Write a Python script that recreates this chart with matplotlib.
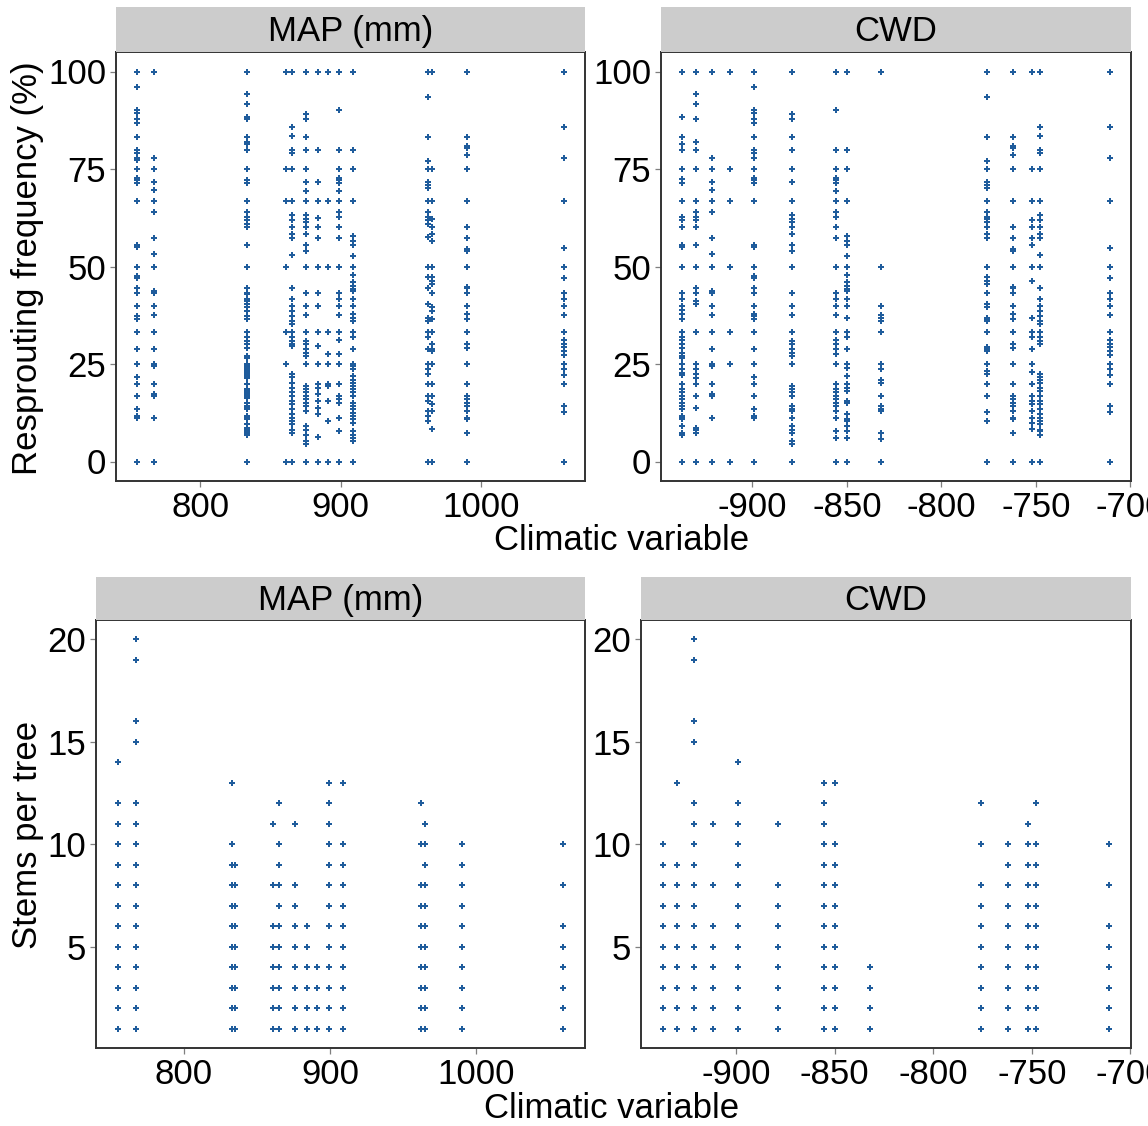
import matplotlib
matplotlib.use("Agg")
import matplotlib.pyplot as plt

plt.rcParams["font.family"] = ["Liberation Sans", "DejaVu Sans"]
plt.rcParams["axes.unicode_minus"] = False

# resprouting frequency (%) per site
map_sites = [755, 767, 833, 861, 865, 875, 884, 891, 899, 909, 962, 965, 990, 1059]
map_resprout = [
    [100, 96, 90.2, 89.4, 87.7, 86.8, 83.2, 79.8, 79.1, 77.7, 77.4, 75, 72.8, 72.1, 71.4, 66.7, 55.4, 54.9, 50,
     47.6, 47, 44.6, 43.2, 40, 37.4, 36.5, 33.3, 28.8, 25, 21.7, 20, 16.7, 13.5, 11.7, 11.1, 0],
    [100, 77.7, 75, 71.6, 69.7, 66.7, 64, 57.3, 53.3, 50, 43.8, 43.2, 40, 37.6, 33.3, 28.8, 25, 24.5, 20, 17.4,
     16.7, 11.1, 0],
    [100, 94.2, 91.6, 88.3, 87.7, 83.2, 81.8, 81.5, 79.8, 75, 72.1, 71.4, 66.7, 63.9, 62.6, 61.8, 60.9, 60.2, 55.4,
     50, 44.6, 43.2, 42.9, 41.6, 41.2, 40.4, 39.5, 38.6, 37.4, 36.5, 33.3, 31.8, 30.9, 30.1, 29.2, 27.1, 26.6, 25,
     24.5, 24.1, 23.7, 23.2, 22.8, 22.4, 21.9, 21.5, 20, 18.5, 18.1, 17.7, 17.2, 16.7, 16.4, 15.1, 14.2, 13.8, 13.4,
     11.7, 11.1, 10.8, 9.5, 8.7, 8.2, 7.8, 7.4, 6.9, 0],
    [100, 75, 66.7, 50, 33.3, 25, 0],
    [100, 85.8, 83.5, 79.8, 79.1, 75, 66.7, 63.1, 61.8, 60.2, 58.4, 57.3, 53, 44.6, 41.6, 40, 38.6, 37.4, 36.1,
     35.2, 33.3, 32, 30.9, 30.1, 29.5, 22.4, 21.7, 20.1, 18.9, 17.7, 16.7, 15.5, 14.7, 13.4, 12.1, 11.2, 10.4, 9.5,
     8.2, 7.4, 0],
    [100, 89.2, 87.7, 83.2, 79.8, 75, 71.6, 69.3, 66.7, 63.1, 62.2, 61.4, 60.2, 58.4, 55.4, 54.1, 50, 43.2, 40,
     37.6, 33.3, 30.9, 30.1, 28.8, 27.9, 27.1, 25, 19.4, 18.5, 17.7, 16.7, 15.9, 15.1, 14.2, 12.9, 9.1, 8.2, 6.9,
     5.2, 4.4, 0],
    [100, 79.8, 71.6, 66.7, 62.5, 60.2, 57.3, 50, 43.2, 40, 33.3, 29.5, 25, 20, 18.9, 17.2, 15.5, 13.8, 12.1, 6.3, 0],
    [100, 66.7, 50, 33.3, 27.5, 25, 20, 19.4, 15.5, 10.4, 0],
    [100, 90.2, 79.8, 75, 72.8, 72.1, 71.4, 69.3, 66.7, 63.9, 62.6, 60.2, 57.3, 50, 43.2, 41.6, 40, 37.6, 33.3,
     31.1, 27.5, 25, 20, 16.7, 15.9, 15.1, 11.2, 7.8, 0],
    [100, 79.8, 75, 66.7, 57.7, 56.6, 55.6, 52.6, 50, 47.9, 45.9, 45.1, 44.2, 43.6, 41.6, 40, 37.8, 36.9, 36.1,
     33.3, 31.8, 28.8, 25, 24.5, 23.7, 21.9, 21, 20.2, 19.4, 18.5, 17.7, 16.7, 15.1, 14.2, 13.4, 12.5, 11.7, 10.8,
     9.9, 7.8, 6.9, 6.1, 5.2, 0],
    [100, 93.5, 83.2, 77, 75, 71.6, 70.8, 70.2, 66.7, 63.9, 62.6, 61.8, 60.9, 57.5, 50, 47.2, 44.6, 40.4, 36.9,
     36.1, 33.3, 31.8, 28.8, 25, 23.7, 22.4, 20, 16.7, 15.5, 12.9, 11.7, 10.4, 0],
    [100, 75, 66.7, 62.2, 60.2, 58.4, 56.6, 50, 47.2, 46.4, 45.5, 43.2, 39.5, 38.6, 36.5, 33.3, 30.1, 28.8, 28.3,
     25, 20, 16.7, 14.7, 12.9, 8.4, 0],
    [100, 83.2, 81, 80.3, 78.5, 75, 66.7, 60.2, 57.3, 54.5, 54.1, 50, 44.8, 44.6, 43.2, 40, 37.8, 36.5, 33.3, 30.1,
     29.2, 25, 20, 16.7, 15.9, 15.1, 14.2, 12.9, 11.2, 11, 7.4, 0],
    [100, 85.8, 77.7, 66.7, 54.8, 50, 47, 43.2, 41.6, 40, 37.6, 33.3, 31.1, 30.2, 29.4, 28.4, 27.3, 25, 23.7, 22.2,
     20, 14.2, 12.8, 0],
]

cwd_sites = [-937, -930, -921.5, -912, -899, -879, -855.6, -849.7, -832, -776, -762, -752, -748, -711]
cwd_resprout = [
    [100, 88.3, 83.2, 81.5, 79.8, 75, 72.5, 71.4, 66.7, 62.6, 61.8, 60.2, 55.4, 54.9, 50, 43.2, 41.6, 40, 38.8,
     37.8, 36.5, 33.3, 31.8, 31.1, 30.1, 29.2, 27.9, 27.1, 26.6, 25, 23.7, 22.8, 22.1, 20, 18.5, 17.7, 16.7, 15.9,
     15.1, 14.2, 13.5, 11.7, 11.2, 10.8, 9.1, 7.4, 6.9, 0],
    [100, 94.2, 91.6, 87.7, 81.8, 79.8, 75, 66.7, 63.9, 62.6, 61.8, 60.2, 55.4, 50, 44.6, 43.2, 41.2, 40.4, 33.3,
     25, 23.7, 22.4, 21.5, 20, 16.7, 13.8, 8.7, 8.2, 7.4, 0],
    [100, 77.7, 75, 71.6, 69.7, 66.7, 64, 57.3, 53.3, 50, 43.8, 43.2, 40, 37.6, 33.3, 28.8, 25, 24.5, 20, 17.4,
     16.7, 11.1, 0],
    [100, 75, 66.7, 50, 33.3, 25, 0],
    [100, 96, 90.2, 89.4, 87.7, 86.8, 83.2, 79.8, 79.1, 77.7, 75, 72.8, 72.1, 71.4, 66.7, 55.4, 54.9, 50,
     47.6, 47, 44.6, 43.2, 40, 37.8, 37.4, 36.5, 33.3, 28.8, 25, 21.7, 20, 16.7, 13.5, 11.7, 11.1, 0],
    [100, 89.2, 87.7, 83.2, 79.8, 75, 71.6, 66.7, 63.1, 62.2, 61.4, 60.2, 58.4, 55.4, 54.1, 50, 43.2, 40,
     37.6, 33.3, 30.9, 30.1, 28.8, 27.9, 27.1, 25, 19.4, 18.5, 17.7, 16.7, 14.2, 13.4, 12.9, 11.2, 9.1, 8.2, 7.4,
     5.2, 4.4, 0],
    [100, 90.2, 79.8, 75, 72.8, 72.1, 71.4, 69.3, 66.7, 63.9, 62.6, 60.2, 57.3, 50, 43.2, 41.6, 40, 37.6, 33.3,
     31.1, 30.1, 28.8, 27.5, 25, 20, 18.5, 17.7, 16.7, 15.9, 15.1, 14.2, 12.9, 11.2, 7.8, 6.1, 0],
    [100, 79.8, 75, 66.7, 57.7, 56.6, 55.4, 52.6, 50, 47.9, 45.9, 45.1, 44.2, 43.6, 41.6, 40, 36.9,
     33.3, 31.8, 28.8, 25, 24.1, 21.9, 20, 18.9, 18.1, 15.5, 15.1, 12.1, 10.8, 10.4, 9.1, 7.8, 6.1, 0],
    [100, 50, 40, 37.6, 36.7, 36.1, 33.3, 25, 23.7, 21, 20.2, 16.7, 14.2, 13.4, 12.9, 7.4, 5.7, 0],
    [100, 93.5, 83.2, 77, 75, 71.6, 70.8, 70.2, 66.7, 63.9, 62.6, 62.2, 61.4, 60.2, 58.4, 57.3, 50, 47.2, 46.4,
     45.5, 43.2, 40.4, 39.5, 36.9, 36.5, 36.1, 33.3, 29.4, 28.8, 28.3, 25, 23.2, 22.4, 20, 16.7, 12.8, 10.4, 0],
    [100, 83.2, 81, 80.3, 78.5, 75, 66.7, 60.2, 57.3, 54.5, 54.1, 50, 44.8, 44.6, 43.2, 40, 37.8, 36.5, 33.3, 30.1,
     29.2, 25, 20, 16.7, 15.9, 15.1, 14.2, 12.9, 11.2, 11, 7.4, 0],
    [100, 75, 66.7, 61.8, 60.2, 57.3, 55.4, 50, 46.4, 36.9, 33.3, 31.8, 28.8, 25, 23, 20, 16.7, 15.5, 14.7, 12.9,
     11.2, 9.9, 8.4, 0],
    [100, 85.8, 83.5, 79.8, 79.1, 75, 66.7, 63.1, 61.8, 60.2, 58.4, 57.3, 53, 50, 44.6, 41.6, 40, 38.6, 37.4, 36.1,
     35.2, 33.3, 32, 30.9, 30.1, 22.4, 21.7, 20.8, 20.1, 18.9, 18.1, 16.7, 15.5, 14.7, 13.4, 12.1, 11.2, 10.4,
     9.5, 8.2, 7.8, 6.9, 0],
    [100, 85.8, 77.7, 66.7, 54.8, 50, 47, 43.2, 41.6, 40, 37.6, 33.3, 31.1, 30.2, 29.4, 28.4, 27.3, 25, 23.7, 22.2,
     20, 14.2, 12.8, 0],
]

# stems per tree, bottom row
map_stem_sites = [755, 767, 833, 835, 861, 865, 876, 884, 891, 899, 909, 962, 965, 990, 1059]
map_stems = [
    [1, 2, 3, 4, 5, 6, 7, 8, 9, 10, 11, 12, 14],
    [1, 2, 3, 4, 5, 6, 7, 8, 9, 10, 11, 12, 15, 16, 19, 20],
    [1, 2, 3, 4, 5, 6, 7, 8, 9, 10, 13],
    [1, 2, 3, 4, 5, 6, 7, 8, 9],
    [1, 2, 3, 4, 5, 6, 8, 11],
    [1, 2, 3, 4, 5, 6, 7, 8, 9, 10, 12],
    [1, 2, 3, 4, 5, 6, 7, 8, 11],
    [1, 2, 3, 4, 5, 6],
    [1, 2, 3, 4],
    [1, 2, 3, 4, 5, 6, 7, 8, 9, 10, 11, 12, 13],
    [1, 2, 3, 4, 5, 6, 7, 8, 9, 10, 13],
    [1, 2, 3, 4, 5, 6, 7, 8, 10, 12],
    [1, 2, 3, 4, 5, 6, 7, 8, 9, 10, 11],
    [1, 2, 3, 4, 5, 6, 7, 8, 9, 10],
    [1, 2, 3, 4, 5, 6, 8, 10],
]

cwd_stem_sites = [-937, -930, -921.5, -912, -899, -879, -855.6, -849.7, -832, -776, -762, -752, -748, -711]
cwd_stems = [
    [1, 2, 3, 4, 5, 6, 7, 8, 9, 10],
    [1, 2, 3, 4, 5, 6, 7, 8, 9, 13],
    [1, 2, 3, 4, 5, 6, 7, 8, 9, 10, 11, 12, 15, 16, 19, 20],
    [1, 2, 3, 4, 5, 6, 8, 11],
    [1, 2, 3, 4, 5, 6, 7, 8, 9, 10, 11, 12, 14],
    [1, 2, 3, 4, 5, 6, 7, 8, 11],
    [1, 2, 3, 4, 5, 6, 7, 8, 9, 10, 11, 12, 13],
    [1, 2, 3, 4, 5, 6, 7, 8, 9, 10, 13],
    [1, 2, 3, 4],
    [1, 2, 3, 4, 5, 6, 7, 8, 10, 12],
    [1, 2, 3, 4, 5, 6, 7, 8, 9, 10],
    [1, 2, 3, 4, 5, 6, 7, 8, 9, 10, 11],
    [1, 2, 3, 4, 5, 6, 7, 8, 9, 10, 12],
    [1, 2, 3, 4, 5, 6, 8, 10],
]

W, H = 1148, 1126
fig = plt.figure(figsize=(W / 100, H / 100), dpi=100)

PT_COLOR = "#1f5c9c"
FS = 25


def frac(x0, y0, x1, y1):
    # pixel box -> figure fraction [left, bottom, width, height]
    return [x0 / W, 1 - y1 / H, (x1 - x0) / W, (y1 - y0) / H]


def panel(box, strip_box, title, sites, values, xticks, yticks):
    ax = fig.add_axes(frac(*box))
    for x, vals in zip(sites, values):
        ax.plot([x] * len(vals), vals, linestyle="none", marker="P", markersize=4.2,
                markeredgewidth=0, color=PT_COLOR)
    ax.margins(0.05)
    ax.set_xticks(xticks)
    ax.set_yticks(yticks)
    ax.tick_params(labelsize=FS, length=4, width=0.9, color="#7f7f7f", pad=3)
    for s in ax.spines.values():
        s.set_color("#333333")
        s.set_linewidth(1.4)
    st = fig.add_axes(frac(*strip_box))
    st.set_facecolor("#cccccc")
    st.set_xticks([])
    st.set_yticks([])
    for s in st.spines.values():
        s.set_visible(False)
    st.text(0.5, 0.45, title, ha="center", va="center", fontsize=FS, transform=st.transAxes)
    return ax


panel((116, 52, 585, 481), (116, 7, 585, 52), "MAP (mm)", map_sites, map_resprout,
      [800, 900, 1000], [0, 25, 50, 75, 100])
panel((661, 52, 1131, 481), (661, 7, 1131, 52), "CWD", cwd_sites, cwd_resprout,
      [-900, -850, -800, -750, -700], [0, 25, 50, 75, 100])
panel((96, 620, 585, 1048), (96, 577, 585, 620), "MAP (mm)", map_stem_sites, map_stems,
      [800, 900, 1000], [5, 10, 15, 20])
panel((641, 620, 1131, 1048), (641, 577, 1131, 620), "CWD", cwd_stem_sites, cwd_stems,
      [-900, -850, -800, -750, -700], [5, 10, 15, 20])

fig.text(622 / W, 1 - 541 / H, "Climatic variable", ha="center", va="center", fontsize=FS)
fig.text(612 / W, 1 - 1109 / H, "Climatic variable", ha="center", va="center", fontsize=FS)
fig.text(28 / W, 1 - 268 / H, "Resprouting frequency (%)", ha="center", va="center",
         rotation=90, fontsize=FS)
fig.text(28 / W, 1 - 835 / H, "Stems per tree", ha="center", va="center", rotation=90, fontsize=FS)

fig.savefig("out.png", dpi=100)
